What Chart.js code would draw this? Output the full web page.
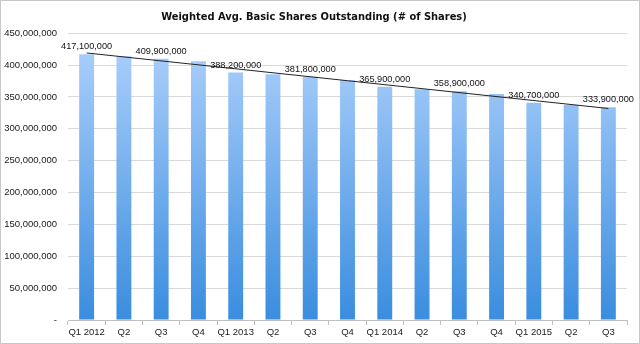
<!DOCTYPE html>
<html>
<head>
<meta charset="utf-8">
<script src="https://cdn.jsdelivr.net/npm/chart.js@4.4.0/dist/chart.umd.min.js"></script>
<style>
  html, body { margin: 0; padding: 0; background: #fff; }
  #wrap { width: 640px; height: 344px; position: relative; box-sizing: border-box; border: 1px solid #c8c8c8; }
</style>
</head>
<body>
<div id="wrap"><canvas id="sharesChart"></canvas></div>
<script>
// Quarters on the x axis
const quarters = ['Q1 2012', 'Q2', 'Q3', 'Q4', 'Q1 2013', 'Q2', 'Q3', 'Q4',
                  'Q1 2014', 'Q2', 'Q3', 'Q4', 'Q1 2015', 'Q2', 'Q3'];
// Weighted avg. basic shares outstanding
const shares = [417100000, 414000000, 409900000, 405800000, 388200000, 385500000, 381800000, 376000000,
                365900000, 362000000, 358900000, 354700000, 340700000, 337500000, 333900000];
// Linear trendline, start and end values
const trendStart = 419000000;
const trendEnd = 331900000;
// y axis ticks
const yMax = 450000000;
const yStep = 50000000;

const trend = quarters.map((q, i) => i === 0 ? trendStart : (i === quarters.length - 1 ? trendEnd : null));

const fontFamily = '"Liberation Sans", Arial, sans-serif';
const titleFamily = '"DejaVu Sans Condensed", "Liberation Sans", sans-serif';
const fmt = new Intl.NumberFormat('en-US');

// draws value labels above every other bar
const barLabels = {
    id: 'barLabels',
    afterDatasetsDraw(chart) {
        const ctx = chart.ctx;
        const meta = chart.getDatasetMeta(1);
        ctx.save();
        ctx.font = '9.2px ' + fontFamily;
        ctx.fillStyle = '#111';
        ctx.textAlign = 'center';
        ctx.textBaseline = 'bottom';
        meta.data.forEach((bar, i) => {
            if (i % 2 !== 0) return;
            ctx.fillText(fmt.format(shares[i]), bar.x, bar.y - 3);
        });
        ctx.restore();
    }
};

function barGradient(context) {
    const area = context.chart.chartArea;
    if (!area) return '#7fb3ee';
    const g = context.chart.ctx.createLinearGradient(0, area.top, 0, area.bottom);
    g.addColorStop(0, '#b0d2fc');
    g.addColorStop(1, '#3a8ddf');
    return g;
}

const ctx = document.getElementById('sharesChart').getContext('2d');
new Chart(ctx, {
    data: {
        labels: quarters,
        datasets: [{
            type: 'line',
            data: trend,
            spanGaps: true,
            borderColor: '#222222',
            borderWidth: 1,
            pointRadius: 0,
            order: 0
        }, {
            type: 'bar',
            data: shares,
            backgroundColor: barGradient,
            barPercentage: 0.4,
            categoryPercentage: 1.0,
            order: 1
        }]
    },
    options: {
        responsive: true,
        maintainAspectRatio: false,
        animation: false,
        layout: { padding: { left: 0, right: 12, top: 0, bottom: 0 } },
        plugins: {
            legend: { display: false },
            tooltip: { enabled: false },
            title: {
                display: true,
                text: 'Weighted Avg. Basic Shares Outstanding (# of Shares)',
                color: '#111',
                font: { family: titleFamily, size: 11, weight: 'bold' },
                padding: { top: 10, bottom: 9 }
            }
        },
        scales: {
            x: {
                grid: {
                    display: true,
                    drawOnChartArea: false,
                    drawTicks: true,
                    tickLength: 5,
                    color: '#bfbfbf'
                },
                border: { color: '#bfbfbf' },
                ticks: {
                    color: '#1a1a1a',
                    maxRotation: 0,
                    autoSkip: false,
                    padding: 2,
                    font: { family: fontFamily, size: 9.5 }
                },
                afterFit(scale) { scale.height = 23; }
            },
            y: {
                min: 0,
                max: yMax,
                grid: {
                    color: '#d9d9d9',
                    drawTicks: false
                },
                border: { display: false },
                ticks: {
                    stepSize: yStep,
                    color: '#1a1a1a',
                    padding: 11,
                    font: { family: fontFamily, size: 9.5 },
                    callback: function(value) {
                        return value === 0 ? '-' : fmt.format(value);
                    }
                },
                afterFit(scale) { scale.width = 67; }
            }
        }
    },
    plugins: [barLabels]
});
</script>
</body>
</html>
